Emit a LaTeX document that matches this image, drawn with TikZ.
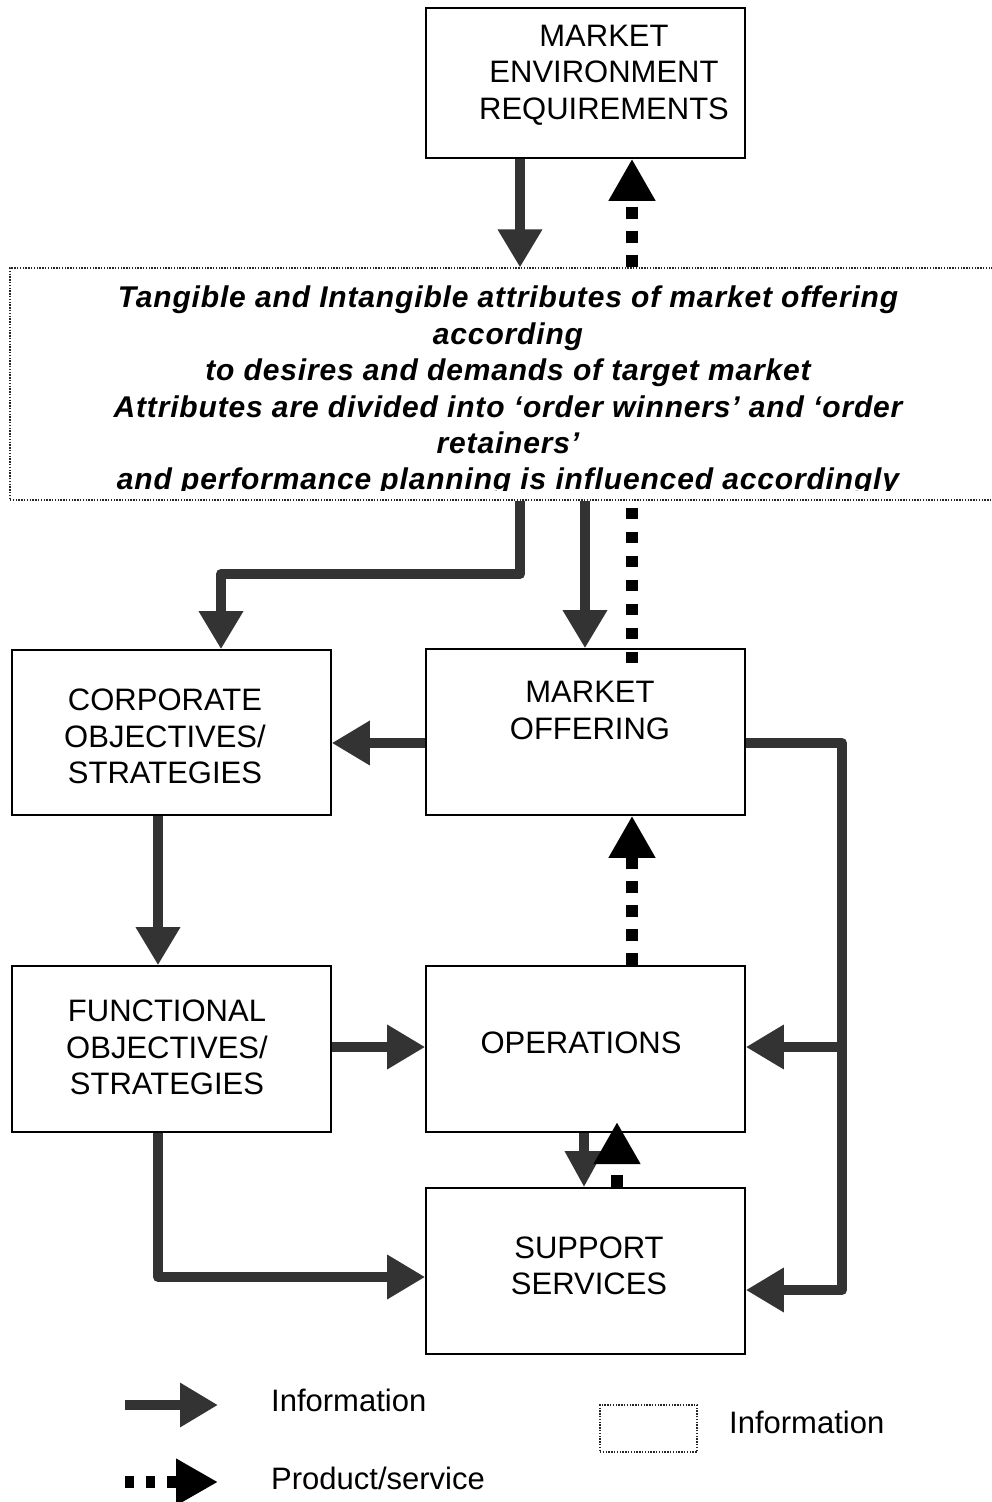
\documentclass[tikz,border=0pt]{standalone}
\usepackage{fontspec}
\setmainfont{Liberation Sans}
\newfontfamily\attrfont{Liberation Sans}[LetterSpace=2.8]
\usetikzlibrary{arrows.meta}

\definecolor{infoink}{gray}{0.2}

\begin{document}
\begin{tikzpicture}[x=1pt,y=-1pt,
  stage/.style={draw=black,line width=1.6pt,fill=white,minimum width=319pt,inner sep=0pt},
  caption/.style={font=\fontsize{31}{36.5}\selectfont,align=center,inner sep=0pt},
  attrtext/.style={font={\attrfont\bfseries\itshape\fontsize{30}{36.4}\selectfont},align=center,inner sep=0pt},
  infoframe/.style={draw=black!85,line width=1.1pt,dash pattern=on 1.4pt off 1.4pt,fill=white,inner sep=0pt},
  info/.style={draw=infoink,line width=10pt,line join=round,-{Triangle[width=42pt,length=38pt]}},
  goods/.style={draw=black,line width=12pt,dash pattern=on 12pt off 12pt,-{Triangle[width=44pt,length=42pt]}},
  goodsline/.style={draw=black,line width=12pt,dash pattern=on 11pt off 13pt},
  legendtext/.style={font=\fontsize{31}{36}\selectfont,inner sep=0pt,anchor=west},
]
\useasboundingbox (0,0) rectangle (992,1502);
\clip (0,0) rectangle (992,1502);

% ---- boxes -------------------------------------------------------------
\node[stage,minimum height=150pt] (env) at (585.5,83) {};
\node[caption] (envtxt) at (604,75) {MARKET\\ENVIRONMENT\\REQUIREMENTS};

\node[infoframe,minimum width=990pt,minimum height=232pt] (attr) at (505,384) {};
\begin{scope}
  \clip (10,268) rectangle (1000,490.5);
  \node[attrtext,anchor=north] (attrtxt) at (508,286)
    {Tangible and Intangible attributes of market offering\\
     according\\
     to desires and demands of target market\\
     Attributes are divided into ‘order winners’ and ‘order\\
     retainers’\\
     and performance planning is influenced accordingly};
\end{scope}

\node[stage,minimum height=165pt] (corp) at (171.5,732.5) {};
\node[caption] (corptxt) at (165,736.5) {CORPORATE\\OBJECTIVES/\\STRATEGIES};

\node[stage,minimum height=166pt] (offer) at (585.5,732) {};
\node[caption] (offertxt) at (590,710.5) {MARKET\\OFFERING};

\node[stage,minimum height=166pt] (func) at (171.5,1049) {};
\node[caption] (functxt) at (167,1047.5) {FUNCTIONAL\\OBJECTIVES/\\STRATEGIES};

\node[stage,minimum height=166pt] (ops) at (585.5,1049) {};
\node[caption] (opstxt) at (581,1043) {OPERATIONS};

\node[stage,minimum height=166pt] (supp) at (585.5,1271) {};
\node[caption] (supptxt) at (589,1266) {SUPPORT\\SERVICES};

% ---- connectors --------------------------------------------------------
\draw[info] (520,0 |- env.south) -- (520,0 |- attr.north);
\draw[goods] (632,0 |- attr.north) -- (632,0 |- env.south);

\draw[info] (520,0 |- attr.south) -- (520,574) -- (221,574) -- (221,0 |- corp.north);
\draw[info] (585,0 |- attr.south) -- (585,0 |- offer.north);
\coordinate (offerdot) at (632,663);
\draw[goodsline] (offerdot) -- (632,0 |- attr.south);

\draw[info] (offer.west |- 0,743) -- (corp.east |- 0,743);
\draw[info] (offer.east |- 0,743) -- (842,743) -- (842,1290) -- (supp.east |- 0,1290);
\coordinate (rjoin) at (842,1047);
\draw[info] (rjoin) -- (ops.east |- 0,1047);

\draw[info] (158,0 |- corp.south) -- (158,0 |- func.north);
\draw[info] (func.east |- 0,1047) -- (ops.west |- 0,1047);
\draw[info] (158,0 |- func.south) -- (158,1277) -- (supp.west |- 0,1277);

\draw[goods] (632,0 |- ops.north) -- (632,0 |- offer.south);
\draw[info,-{Triangle[width=36pt,length=36pt]}] (584,0 |- ops.south) -- (584,0 |- supp.north);
\coordinate (opsin) at (617,1122);
\draw[goods] (617,0 |- supp.north) -- (opsin);

% ---- legend ------------------------------------------------------------
\coordinate (infoA) at (125,1405);
\coordinate (infoB) at (218,1405);
\draw[info] (infoA) -- (infoB);
\node[legendtext] (infolbl) at (271,1400) {Information};

\coordinate (goodsA) at (125,1482);
\coordinate (goodsB) at (218,1482);
\draw[goods,dash pattern=on 9pt off 12pt] (goodsA) -- (goodsB);
\node[legendtext] (goodslbl) at (271,1478) {Product/service};

\node[infoframe,minimum width=97pt,minimum height=47pt] (legframe) at (648.5,1428.5) {};
\node[legendtext] (framelbl) at (729,1422) {Information};
\end{tikzpicture}
\end{document}
